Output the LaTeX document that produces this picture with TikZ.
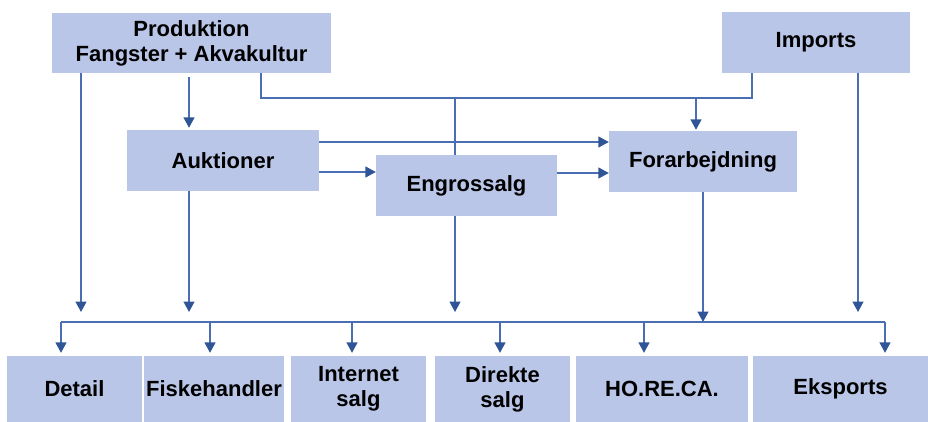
\documentclass[tikz,border=0pt]{standalone}
\usepackage{fontspec}
\setmainfont{Liberation Sans}
\usetikzlibrary{arrows.meta}
\definecolor{boxc}{RGB}{185,198,232}
\definecolor{linec}{RGB}{74,110,180}
\definecolor{tipc}{RGB}{47,85,151}
\begin{document}
\begin{tikzpicture}[x=1pt,y=-1pt,
  box/.style={fill=boxc, draw=none, inner sep=0pt, align=center,
    font=\fontsize{22}{25}\selectfont\bfseries},
  conn/.style={draw=linec, line width=1.5pt},
  arr/.style={conn, -{Triangle[length=10.5pt,width=11pt,color=tipc]}}]
\useasboundingbox (0,0) rectangle (928,422);

% boxes
\node[box, minimum width=279pt, minimum height=60pt] (prod) at (191.5,43) {Produktion\\Fangster + Akvakultur};
\node[box, minimum width=188pt, minimum height=61pt] (imp) at (816,42.5) {Imports};
\node[box, minimum width=192pt, minimum height=61pt] (auk) at (223,160.5) {Auktioner};
\node[box, minimum width=181pt, minimum height=61pt] (eng) at (466.5,185.5) {Engrossalg};
\node[box, minimum width=188pt, minimum height=61pt] (forb) at (703,161.5) {Forarbejdning};

\node[box, minimum width=135pt, minimum height=66pt] (detail) at (74.5,389) {Detail};
\node[box, minimum width=140pt, minimum height=66pt] (fisk) at (214,389) {Fiskehandler};
\node[box, minimum width=135pt, minimum height=66pt] (inet) at (358.5,389) {Internet\\salg};
\node[box, minimum width=135pt, minimum height=66pt] (dir) at (502.5,389) {Direkte\\salg};
\node[box, minimum width=172pt, minimum height=66pt] (horeca) at (662,389) {HO.RE.CA.};
\node[box, minimum width=175pt, minimum height=66pt] (eks) at (840.5,389) {Eksports};

% coordinates
\coordinate (tA) at (81,312);
\coordinate (pa) at (189,0);
\coordinate (pr) at (261,98);
\coordinate (ir) at (752,98);
\coordinate (fa) at (696,98);
\coordinate (ea) at (455,98);
\coordinate (tC) at (455,312);
\coordinate (r1) at (0,142);
\coordinate (r2) at (0,172);
\coordinate (r3) at (0,173);
\coordinate (tB) at (189,312);
\coordinate (tD) at (703,322);
\coordinate (tE) at (858,312);
\coordinate (b1) at (61,322);
\coordinate (b2) at (210,322);
\coordinate (b3) at (352,322);
\coordinate (b4) at (500,322);
\coordinate (b5) at (644,322);
\coordinate (b6) at (885,322);

% connectors
\draw[arr] (prod.south -| tA) -- (tA);
\draw[arr] ([yshift=-4pt]prod.south -| pa) -- ([yshift=2pt]auk.north -| pa);
\draw[conn] (prod.south -| pr) -- (pr) -- (ir) -- (imp.south -| ir);
\draw[arr] (fa) -- ([yshift=1pt]forb.north -| fa);
\draw[conn] (ea) -- (eng.north -| ea);
\draw[arr] (eng.south -| tC) -- (tC);
\draw[arr] (auk.east |- r1) -- (forb.west |- r1);
\draw[arr] (auk.east |- r2) -- (eng.west |- r2);
\draw[arr] (eng.east |- r3) -- (forb.west |- r3);
\draw[arr] (auk.south -| tB) -- (tB);
\draw[arr] (forb.south -| tD) -- (tD);
\draw[arr] (imp.south -| tE) -- (tE);

\draw[conn] (b1) -- (b6);
\draw[arr] (b1) -- ([yshift=3pt]detail.north -| b1);
\draw[arr] (b2) -- ([yshift=3pt]fisk.north -| b2);
\draw[arr] (b3) -- ([yshift=3pt]inet.north -| b3);
\draw[arr] (b4) -- ([yshift=3pt]dir.north -| b4);
\draw[arr] (b5) -- ([yshift=3pt]horeca.north -| b5);
\draw[arr] (b6) -- ([yshift=3pt]eks.north -| b6);
\end{tikzpicture}
\end{document}
